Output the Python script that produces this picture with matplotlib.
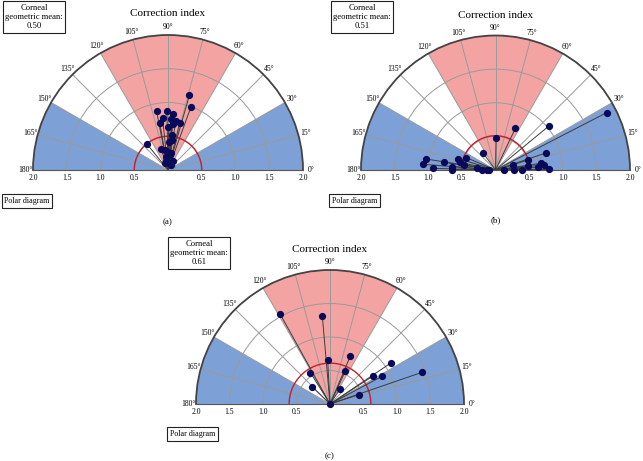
import matplotlib
matplotlib.use("Agg")
import matplotlib.pyplot as plt
import numpy as np

plt.rcParams['font.family'] = ['Liberation Serif', 'DejaVu Serif']

# correction index data: radius (index) and angle (degrees) per eye
r_a = [1.15, 1.00, 0.89, 0.88, 0.83, 0.77, 0.70, 0.75, 0.74, 0.72, 0.69, 0.64,
       0.52, 0.45, 0.42, 0.49, 0.32, 0.30, 0.27, 0.22, 0.13, 0.15, 0.11, 0.09,
       0.20, 0.25]
th_a = [74, 70, 101, 91, 85, 96, 100, 87, 81, 76, 84, 90,
        84, 83, 87, 129, 108, 99, 90, 84, 101, 61, 116, 56,
        97, 80]
mean_a = 0.50

r_b = [1.04, 1.08, 0.78, 0.93, 0.58, 0.47, 0.54, 0.47, 0.65, 0.64, 0.28, 0.20,
       0.13, 0.09, 0.31,
       0.47, 0.69, 1.03, 1.86,
       0.80, 0.50, 0.27, 0.68, 0.72, 0.64, 0.48, 0.80, 0.27, 0.39, 0.12]
th_b = [171, 175.5, 171.5, 178.5, 163, 157, 168, 171, 175.5, 179.5, 175, 179.5,
        179.5, 179, 126,
        89, 64.5, 39.5, 27.3,
        18.7, 17, 16, 8.4, 6, 3.6, 7, 0.7, 1.5, 1, 0.5]
mean_b = 0.51

r_c = [1.54, 1.32, 0.66, 0.78, 0.54, 0.27, 0.55, 0.37, 1.10, 0.76, 0.88, 0.45,
       1.46, 0.0]
th_c = [119, 95, 93, 67, 65, 56, 122, 136, 34, 33, 28, 18,
        19, 90]
mean_c = 0.61

red_zone = (60, 120)
blue_zones = [(0, 30), (150, 180)]
theta_ticks = list(range(0, 181, 15))
r_ticks = [0.5, 1.0, 1.5, 2.0]

W, H = 643, 461
fig = plt.figure(figsize=(W / 100, H / 100), dpi=100)


def panel(cx, cy, R, rs, ths, mean, letter, box_c, pd_c, title_y, letter_y):
    # a half polar axes sits in the middle of a square box
    ax = fig.add_axes([(cx - R) / W, (H - cy - 0.5 * R) / H, 2 * R / W, 2 * R / H],
                      projection='polar')
    ax.set_thetamin(0)
    ax.set_thetamax(180)
    ax.set_rlim(0, 2)

    # zones
    lo, hi = red_zone
    ax.bar(np.deg2rad((lo + hi) / 2), 2, width=np.deg2rad(hi - lo),
           color='#F4A3A3', edgecolor='none', zorder=0.5)
    for lo, hi in blue_zones:
        ax.bar(np.deg2rad((lo + hi) / 2), 2, width=np.deg2rad(hi - lo),
               color='#7DA0D6', edgecolor='none', zorder=0.5)

    ax.set_thetagrids(theta_ticks, [f"{t}\u00b0" for t in theta_ticks])
    ax.set_rgrids(r_ticks, labels=[])
    ax.grid(color='#9a9a9a', lw=0.7)
    ax.tick_params(axis='x', labelsize=5.5, length=0, pad=-1.5)
    ax.spines['polar'].set_color('#444444')
    ax.spines['polar'].set_linewidth(1.3)
    for s in ('start', 'end'):
        ax.spines[s].set_color('#555555')
        ax.spines[s].set_linewidth(0.8)

    # radial labels on both sides of the base line
    for rv in r_ticks:
        for t in (0, np.pi):
            ax.annotate(f"{rv:.1f}", (t, rv), xytext=(0, -3),
                        textcoords='offset points', ha='center', va='top',
                        fontsize=5.5, annotation_clip=False)

    # mean circle
    tt = np.linspace(0, np.pi, 200)
    ax.plot(tt, np.full_like(tt, mean), color='#C4202C', lw=1.0, zorder=3)

    # vectors
    th = np.deg2rad(ths)
    for t, rv in zip(th, rs):
        ax.plot([0, t], [0, rv], color='#3c3c3c', lw=0.7, zorder=3)
    ax.plot(th, rs, 'o', color='#0A0A5C', ms=4.2, zorder=4, clip_on=False)

    fig.text(cx / W, 1 - title_y / H, "Correction index", ha='center',
             va='center', fontsize=8)
    fig.text(box_c[0] / W, 1 - box_c[1] / H,
             f"Corneal\ngeometric mean:\n{mean:.2f}", ha='center',
             va='center', fontsize=6.2, linespacing=1.25,
             multialignment='center',
             bbox=dict(boxstyle='square,pad=0.3', fc='white', ec='#222222',
                       lw=0.8))
    fig.text(pd_c[0] / W, 1 - pd_c[1] / H, "Polar diagram", ha='center',
             va='center', fontsize=5.8,
             bbox=dict(boxstyle='square,pad=0.35', fc='white', ec='#222222',
                       lw=0.8))
    fig.text(cx / W, 1 - letter_y / H, letter, ha='center', va='center',
             fontsize=6.5)
    return ax


panel(168, 170, 135, r_a, th_a, mean_a, "(a)", (34, 17), (27, 201), 14, 222)
panel(495.5, 170, 134.5, r_b, th_b, mean_b, "(b)", (362, 17), (354.5, 200.5), 15, 220)
panel(330, 404, 134, r_c, th_c, mean_c, "(c)", (199, 253), (192.5, 434), 249, 456)

fig.savefig("out.png", dpi=100)
